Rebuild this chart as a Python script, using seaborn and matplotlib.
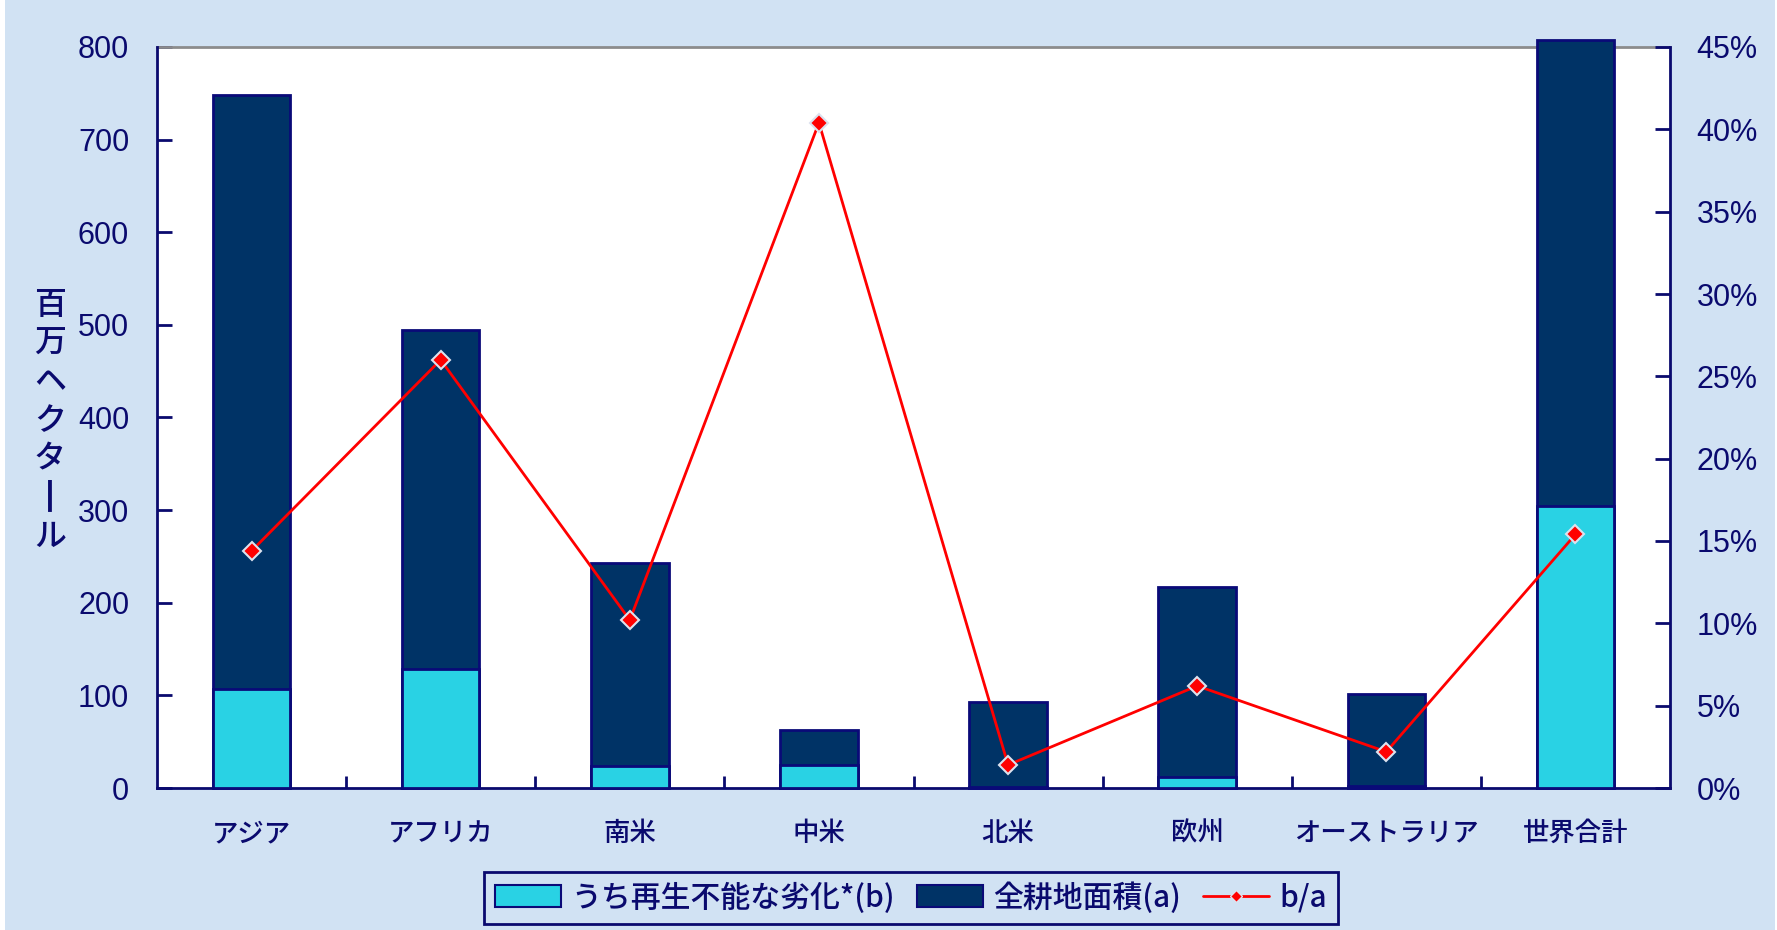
import numpy as np
import pandas as pd
import matplotlib
matplotlib.use("Agg")
import matplotlib.pyplot as plt
from matplotlib.patches import Patch, Rectangle
from matplotlib.lines import Line2D
from matplotlib.ticker import FuncFormatter
import seaborn as sns

# Cropland by region (million ha) and the share lost to irreversible degradation
regions = ["アジア", "アフリカ", "南米", "中米", "北米", "欧州", "オーストラリア", "世界合計"]
total_area = [748, 494, 243, 63, 93, 217, 101, 808]          # 全耕地面積 (a)
degraded_area = [107, 128, 24, 25, 1.3, 12, 2.2, 304]        # うち再生不能な劣化 (b)
ratio = [0.144, 0.260, 0.102, 0.404, 0.014, 0.062, 0.022, 0.154]  # b/a

left_ticks = list(range(0, 801, 100))
right_ticks = [i * 0.05 for i in range(10)]

BG = "#D1E2F3"
DARK = "#003366"
LIGHT = "#29D2E4"
EDGE = "#0A0A78"
NAVY = "#0A0A6E"
RED = "#FF0000"
CJK = "Noto Sans CJK JP"

sns.set_theme(style="white")
plt.rcParams["font.family"] = ["Liberation Sans", CJK, "DejaVu Sans"]

fig = plt.figure(figsize=(17.77, 9.30), dpi=100)
fig.patch.set_facecolor("white")
fig.add_artist(Rectangle((5 / 1777, 0), 1770 / 1777, 1, transform=fig.transFigure,
                         facecolor=BG, edgecolor="none", zorder=-10))

ax = fig.add_axes([157 / 1777, 1 - 788 / 930, 1513 / 1777, 741 / 930])
ax.set_facecolor("white")

df = pd.DataFrame({"region": regions, "total": total_area, "degraded": degraded_area})

sns.barplot(data=df, x="region", y="total", color=DARK, saturation=1, width=0.41,
            edgecolor=EDGE, linewidth=2, ax=ax, zorder=3)
sns.barplot(data=df, x="region", y="degraded", color=LIGHT, saturation=1, width=0.41,
            edgecolor=EDGE, linewidth=2, ax=ax, zorder=3)
for p in ax.patches:
    p.set_clip_on(False)

ax.set_ylim(0, 800)
ax.set_yticks(left_ticks)
ax.set_xlim(-0.5, len(regions) - 0.5)
ax.set_xlabel("")
ax.set_ylabel("")
ax.tick_params(axis="y", direction="in", length=11, width=2, color=NAVY,
               labelcolor=NAVY, labelsize=22, pad=20, left=True)
ax.tick_params(axis="x", which="major", length=0, labelcolor=NAVY, labelsize=19, pad=23)
ax.set_xticks(np.arange(0.5, len(regions) - 1), minor=True)
ax.tick_params(axis="x", which="minor", direction="in", length=9, width=2, color=NAVY,
               bottom=True)
for lbl in ax.get_xticklabels():
    lbl.set_fontfamily(CJK)
    lbl.set_fontweight("medium")

ax.spines["top"].set_color("#8C8C8C")
ax.spines["top"].set_linewidth(2)
ax.spines["top"].set_zorder(2)
for s in ("left", "bottom"):
    ax.spines[s].set_color(NAVY)
    ax.spines[s].set_linewidth(2)
ax.spines["right"].set_visible(False)

# Ratio line on the secondary axis
ax2 = ax.twinx()
sns.lineplot(x=regions, y=ratio, ax=ax2, color=RED, linewidth=2, sort=False,
             marker="D", markersize=9, markeredgecolor="#DCE2EE", markeredgewidth=1.5)
ax2.set_ylim(0, 0.45)
ax2.set_yticks(right_ticks)
ax2.yaxis.set_major_formatter(FuncFormatter(lambda v, _: f"{round(v * 100)}%"))
ax2.tick_params(axis="y", direction="in", length=11, width=2, color=NAVY,
                labelcolor=NAVY, labelsize=22, pad=19, right=True)
ax2.set_ylabel("")
for s in ("top", "left", "bottom"):
    ax2.spines[s].set_visible(False)
ax2.spines["right"].set_color(NAVY)
ax2.spines["right"].set_linewidth(2)

# Vertical y-axis title, one character per line
ylabel_chars = ["百", "万", "ヘ", "ク", "タ", "┃", "ル"]
fig.text(50 / 1777, 1 - 421 / 930, "\n".join(ylabel_chars), ha="center", va="center",
         fontsize=23, linespacing=1.27, family=CJK, fontweight="medium", color=NAVY)

handles = [
    Patch(facecolor=LIGHT, edgecolor=EDGE, linewidth=1.5),
    Patch(facecolor=DARK, edgecolor=EDGE, linewidth=1.5),
    Line2D([], [], color=RED, linewidth=2, marker="D", markersize=6,
           markeredgecolor="#DCE2EE", markeredgewidth=1),
]
labels = ["うち再生不能な劣化*(b)", "全耕地面積(a)", "b/a"]
leg = fig.legend(handles, labels, loc="center", bbox_to_anchor=(911 / 1777, 1 - 898 / 930),
                 ncol=3, frameon=True, fancybox=False, facecolor=BG, edgecolor=NAVY,
                 prop={"family": [CJK], "size": 21.5, "weight": "medium"},
                 handlelength=2.2, handleheight=0.75,
                 handletextpad=0.35, columnspacing=0.75, borderpad=0.35, framealpha=1)
leg.get_frame().set_linewidth(2)
for t in leg.get_texts():
    t.set_color(NAVY)

fig.savefig("out.png", dpi=100, facecolor=fig.get_facecolor())
